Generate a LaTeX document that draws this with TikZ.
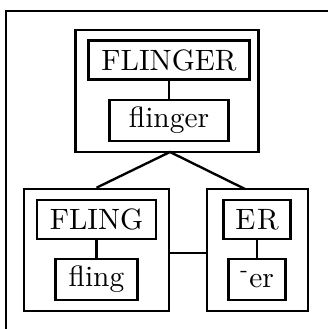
\documentclass[tikz,border=0pt]{standalone}
\usetikzlibrary{calc}

\tikzset{
  groupbox/.style={draw, line width=0.85pt, inner sep=0pt, minimum height=41.5pt},
  upperbox/.style={draw, line width=0.85pt, inner sep=0pt, minimum height=13.3pt},
  lowerbox/.style={draw, line width=0.85pt, inner sep=0pt, minimum height=13.9pt},
  link/.style={line width=0.8pt}
}

\begin{document}
\begin{tikzpicture}[x=0.34pt,y=-0.34pt]
  \useasboundingbox (0,0) rectangle (328,329);
  % frame, cut by the page
  \draw[line width=0.9pt] (6,329) -- (6,11) -- (328,11);

  % groups
  \node[groupbox, minimum width=62.2pt] (flingergrp) at (167,91) {};
  \node[groupbox, minimum width=49.3pt] (flinggrp) at (96.5,250) {};
  \node[groupbox, minimum width=34.3pt] (ergrp) at (257.5,250) {};

  % words
  \node[upperbox, minimum width=54.7pt] (FLINGER) at (169,60) {FLINGER};
  \node[lowerbox, minimum width=40.5pt] (flinger) at (169,120.5) {flinger};
  \node[upperbox, minimum width=40.5pt] (FLING) at (96.5,219.5) {FLING};
  \node[lowerbox, minimum width=27.9pt] (fling) at (96.5,279.5) {fling};
  \node[upperbox, minimum width=22.8pt] (ER) at (257,219.5) {E\kern0.6pt R};
  \node[lowerbox, minimum width=19.4pt] (er) at (257,279.5) {\textsuperscript{-}er};

  \coordinate (apex) at (170,152);
  \coordinate (erfoot) at (245,189);

  \draw[link] (FLINGER) -- (flinger);
  \draw[link] (FLING) -- (fling);
  \draw[link] (ER) -- (er);
  \draw[link] (flinggrp.north) -- (apex) -- (erfoot);
  \draw[link] ($(flinggrp.east)+(0,3)$) -- ($(ergrp.west)+(0,3)$);
\end{tikzpicture}
\end{document}
